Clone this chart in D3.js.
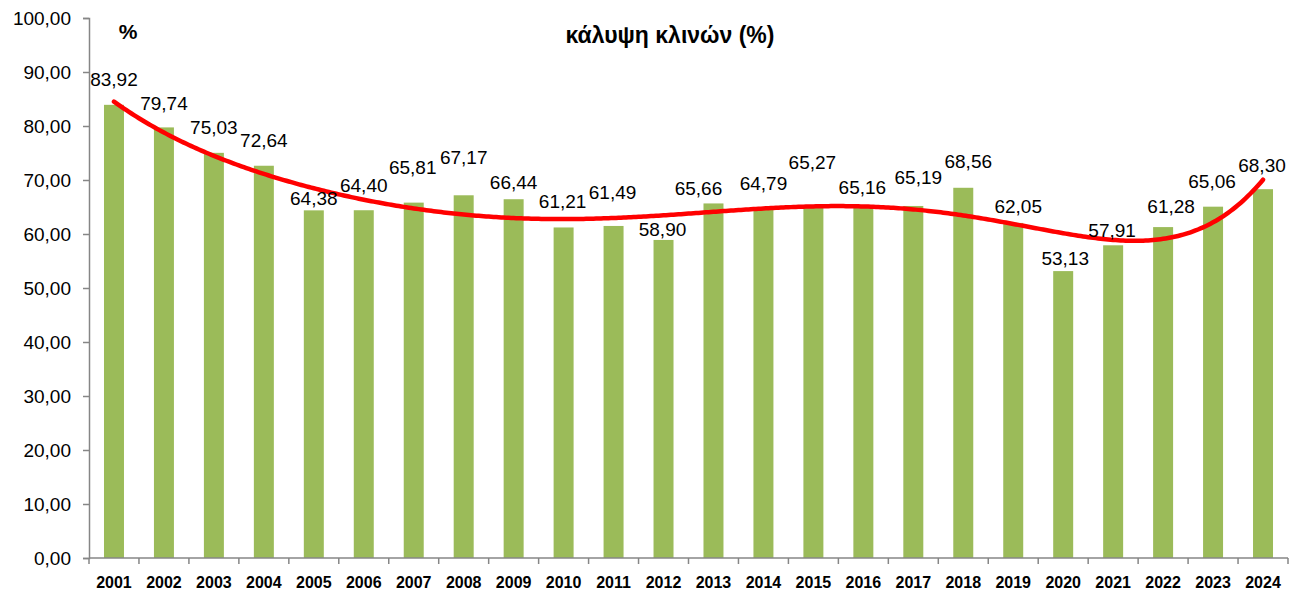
<!DOCTYPE html>
<html>
<head>
<meta charset="utf-8">
<script src="https://cdn.jsdelivr.net/npm/d3@7"></script>
<style>
  body { margin: 0; background: #fff; }
  text { font-family: "Liberation Sans", Arial, sans-serif; fill: #000; }
</style>
</head>
<body>
<div id="chart-area"></div>
<script>
var years = ["2001","2002","2003","2004","2005","2006","2007","2008","2009","2010","2011","2012",
  "2013","2014","2015","2016","2017","2018","2019","2020","2021","2022","2023","2024"];
var coverage = [83.92, 79.74, 75.03, 72.64, 64.38, 64.40, 65.81, 67.17, 66.44, 61.21, 61.49, 58.90,
  65.66, 64.79, 65.27, 65.16, 65.19, 68.56, 62.05, 53.13, 57.91, 61.28, 65.06, 68.30];
var yTicks = [0, 10, 20, 30, 40, 50, 60, 70, 80, 90, 100];

// hand-placed label nudges (as moved in the original chart)
var labelDx = [0, 0, 0, 0, 0, 0, -1, 0, 0, -1, -1, -1, -15, 0, -1, -1, 5, 5, 5, 2, -1, 8, -1, -1];
var labelDy = [1, 2, 1, 1, 14, 1, -9, -12, 9, 0, -8, 15, 11, 1, -17, 7, -3, 0, 9, 13, 11, 5, 1, 2];

var width = 1303, height = 594;
var margin = { left: 89, right: 15, top: 18, bottom: 36 };

var svg = d3.select("#chart-area")
  .append("svg")
  .attr("width", width)
  .attr("height", height);

var x = d3.scaleBand()
  .domain(years)
  .range([margin.left, width - margin.right])
  .paddingInner(0.6)
  .paddingOuter(0.3);

var y = d3.scaleLinear()
  .domain([0, 100])
  .range([height - margin.bottom, margin.top]);

var fmt = v => d3.format(".2f")(v).replace(".", ",");

// bars
svg.selectAll("rect.bar")
  .data(coverage)
  .enter()
  .append("rect")
  .attr("class", "bar")
  .attr("x", (d, i) => x(years[i]))
  .attr("y", d => y(d))
  .attr("width", x.bandwidth())
  .attr("height", d => y(0) - y(d))
  .attr("fill", "#9BBB59");

// y axis
var yAxis = svg.append("g")
  .attr("transform", "translate(" + margin.left + ",0)")
  .call(d3.axisLeft(y).tickValues(yTicks).tickFormat(fmt).tickSizeOuter(0).tickSize(6).tickPadding(12));
yAxis.selectAll("text").style("font-size", "19px");

// x axis: ticks between categories
var x0 = margin.left, x1 = width - margin.right;
var xg = svg.append("g");
xg.append("line")
  .attr("x1", x0).attr("x2", x1)
  .attr("y1", y(0)).attr("y2", y(0));
xg.selectAll("line.tk")
  .data(d3.range(years.length + 1))
  .enter()
  .append("line")
  .attr("class", "tk")
  .attr("x1", i => x0 + i * (x1 - x0) / years.length)
  .attr("x2", i => x0 + i * (x1 - x0) / years.length)
  .attr("y1", y(0)).attr("y2", y(0) + 6);
xg.selectAll("text")
  .data(years)
  .enter()
  .append("text")
  .attr("x", d => x(d) + x.bandwidth() / 2)
  .attr("y", y(0) + 24)
  .attr("dy", "0.35em")
  .attr("text-anchor", "middle")
  .style("font-size", "16px")
  .style("font-weight", "bold")
  .text(d => d);

svg.selectAll(".domain, .tick line, g line").attr("stroke", "#868686").attr("stroke-width", 1.5);

// polynomial trendline (order 6, least squares)
function polyFit(xs, ys, order) {
  var n = order + 1;
  var A = [], b = [];
  for (var r = 0; r < n; r++) {
    A.push([]);
    for (var c = 0; c < n; c++) A[r].push(d3.sum(xs, v => Math.pow(v, r + c)));
    b.push(d3.sum(xs, (v, k) => ys[k] * Math.pow(v, r)));
  }
  for (var p = 0; p < n; p++) {
    var m = p;
    for (var r2 = p + 1; r2 < n; r2++) if (Math.abs(A[r2][p]) > Math.abs(A[m][p])) m = r2;
    [A[p], A[m]] = [A[m], A[p]]; [b[p], b[m]] = [b[m], b[p]];
    for (var r3 = p + 1; r3 < n; r3++) {
      var f = A[r3][p] / A[p][p];
      for (var c2 = p; c2 < n; c2++) A[r3][c2] -= f * A[p][c2];
      b[r3] -= f * b[p];
    }
  }
  var coef = new Array(n).fill(0);
  for (var i = n - 1; i >= 0; i--) {
    var s = b[i];
    for (var j = i + 1; j < n; j++) s -= A[i][j] * coef[j];
    coef[i] = s / A[i][i];
  }
  return t => coef.reduce((acc, cf, k) => acc + cf * Math.pow(t, k), 0);
}

var N = years.length;
var norm = i => (i - (N - 1) / 2) / ((N - 1) / 2);
var trend = polyFit(coverage.map((d, i) => norm(i)), coverage, 6);
var xIdx = d3.scaleLinear().domain([0, N - 1])
  .range([x(years[0]) + x.bandwidth() / 2, x(years[N - 1]) + x.bandwidth() / 2]);
var pts = d3.range(0, N - 1 + 0.001, 0.05);

svg.append("path")
  .datum(pts)
  .attr("fill", "none")
  .attr("stroke", "#FF0000")
  .attr("stroke-width", 4.5)
  .attr("stroke-linecap", "round")
  .attr("d", d3.line().x(t => xIdx(t)).y(t => y(trend(norm(t)))));

// data labels
svg.selectAll("text.lbl")
  .data(coverage)
  .enter()
  .append("text")
  .attr("class", "lbl")
  .attr("x", (d, i) => x(years[i]) + x.bandwidth() / 2 + labelDx[i])
  .attr("y", (d, i) => y(d) - 26 + labelDy[i])
  .attr("dy", "0.35em")
  .attr("text-anchor", "middle")
  .style("font-size", "19px")
  .text(d => fmt(d));

// titles
svg.append("text")
  .attr("x", 128).attr("y", 32).attr("dy", "0.35em")
  .attr("text-anchor", "middle")
  .style("font-size", "21px").style("font-weight", "bold")
  .text("%");

svg.append("text")
  .attr("x", 670).attr("y", 35).attr("dy", "0.35em")
  .attr("text-anchor", "middle")
  .style("font-size", "23px").style("font-weight", "bold")
  .text("κάλυψη κλινών (%)");
</script>
</body>
</html>
